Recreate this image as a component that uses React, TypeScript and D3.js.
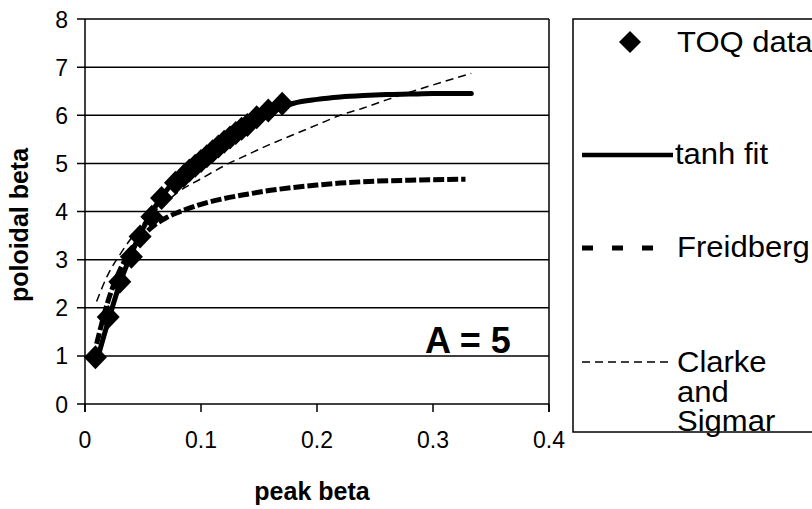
import React from "react";
import * as d3 from "d3";

const W = 812;
const H = 509;

// TOQ data points [peak beta, poloidal beta]
const toqX = [0.009, 0.02, 0.03, 0.04, 0.0475, 0.0576, 0.066, 0.078, 0.085, 0.09, 0.095, 0.1, 0.105, 0.11, 0.115, 0.12, 0.125, 0.13, 0.135, 0.14, 0.148, 0.158, 0.17];
const toqY = [0.97, 1.81, 2.54, 3.06, 3.48, 3.89, 4.28, 4.6, 4.74, 4.85, 4.95, 5.05, 5.15, 5.25, 5.35, 5.45, 5.54, 5.63, 5.72, 5.8, 5.96, 6.1, 6.24];

// tanh fit
const tanhX = [0.01, 0.02, 0.03, 0.04, 0.05, 0.06, 0.07, 0.08, 0.09, 0.1, 0.11, 0.12, 0.13, 0.14, 0.15, 0.16, 0.17, 0.18, 0.2, 0.22, 0.24, 0.26, 0.28, 0.3, 0.333];
const tanhY = [0.88, 1.72, 2.5, 3.12, 3.65, 4.08, 4.43, 4.72, 4.97, 5.18, 5.38, 5.55, 5.71, 5.85, 5.97, 6.08, 6.17, 6.25, 6.33, 6.38, 6.41, 6.43, 6.44, 6.45, 6.45];

// Freidberg
const freiX = [0.01, 0.02, 0.03, 0.04, 0.05, 0.06, 0.07, 0.08, 0.09, 0.1, 0.12, 0.14, 0.16, 0.18, 0.2, 0.22, 0.25, 0.28, 0.328];
const freiY = [1.25, 2.15, 2.78, 3.2, 3.5, 3.72, 3.87, 3.98, 4.07, 4.15, 4.27, 4.36, 4.44, 4.5, 4.55, 4.59, 4.63, 4.65, 4.67];

// Clarke and Sigmar
const clarkeX = [0.01, 0.02, 0.03, 0.04, 0.05, 0.06, 0.07, 0.08, 0.1, 0.12, 0.14, 0.16, 0.18, 0.2, 0.22, 0.24, 0.26, 0.28, 0.3, 0.333];
const clarkeY = [2.13, 2.7, 3.1, 3.45, 3.75, 4.0, 4.2, 4.4, 4.68, 4.95, 5.18, 5.4, 5.6, 5.8, 6.0, 6.15, 6.32, 6.48, 6.63, 6.87];

const xTicks = [0, 0.1, 0.2, 0.3, 0.4];
const xTickLabels = ["0", "0.1", "0.2", "0.3", "0.4"];
const yTicks = [0, 1, 2, 3, 4, 5, 6, 7, 8];

const FONT = "'Liberation Sans', Arial, sans-serif";

const DIAMOND = "M0,-12L11.5,0L0,12L-11.5,0Z";
const LEG_DIAMOND = "M0,-11L11,0L0,11L-11,0Z";

export default function App() {
  const x = d3.scaleLinear().domain([0, 0.4]).range([85, 549]);
  const y = d3.scaleLinear().domain([0, 8]).range([404, 19]);
  const line = d3
    .line<[number, number]>()
    .x((d) => x(d[0]))
    .y((d) => y(d[1]))
    .curve(d3.curveMonotoneX);
  const zip = (a: number[], b: number[]) => a.map((v, i) => [v, b[i]] as [number, number]);

  const legendText = (tx: number, ty: number, s: string) => (
    <text transform={`translate(${tx},${ty}) scale(1.07,1)`} fontSize={29}>
      {s}
    </text>
  );

  return (
    <svg width={W} height={H} style={{ position: "absolute", left: 0, top: 0, background: "#fff" }} fontFamily={FONT}>
      <rect x={0} y={0} width={W} height={H} fill="#fff" />
      {/* gridlines */}
      {yTicks.map((t) => (
        <line key={"g" + t} x1={77} x2={549} y1={y(t)} y2={y(t)} stroke="#000" strokeWidth={1.5} />
      ))}
      {/* axes */}
      <line x1={x(0)} x2={x(0)} y1={y(8)} y2={y(0) + 8} stroke="#000" strokeWidth={1.5} />
      <line x1={x(0.4)} x2={x(0.4)} y1={y(8)} y2={y(0) + 8} stroke="#000" strokeWidth={1.5} />
      {xTicks.map((t) => (
        <line key={"xt" + t} x1={x(t)} x2={x(t)} y1={y(0)} y2={y(0) + 8} stroke="#000" strokeWidth={1.5} />
      ))}
      {yTicks.map((t) => (
        <text key={"yl" + t} x={68} y={y(t) + 8.5} textAnchor="end" fontSize={23}>
          {t}
        </text>
      ))}
      {xTicks.map((t, i) => (
        <text key={"xl" + t} x={x(t)} y={448} textAnchor="middle" fontSize={23}>
          {xTickLabels[i]}
        </text>
      ))}
      {/* axis titles */}
      <text x={312} y={500} textAnchor="middle" fontSize={25} fontWeight="bold">
        peak beta
      </text>
      <text transform={`translate(28,225) rotate(-90)`} textAnchor="middle" fontSize={25} fontWeight="bold">
        poloidal beta
      </text>

      {/* series */}
      <path d={line(zip(clarkeX, clarkeY)) || ""} fill="none" stroke="#000" strokeWidth={1.5} strokeDasharray="8,5" />
      <path d={line(zip(freiX, freiY)) || ""} fill="none" stroke="#000" strokeWidth={5} strokeDasharray="11,3" />
      <path d={line(zip(tanhX, tanhY)) || ""} fill="none" stroke="#000" strokeWidth={5} strokeLinecap="round" />
      {toqX.map((v, i) => (
        <path key={"d" + i} d={DIAMOND} transform={`translate(${x(v)},${y(toqY[i])})`} fill="#000" />
      ))}

      <text x={425} y={353} fontSize={36} fontWeight="bold">
        A = 5
      </text>

      {/* legend */}
      <rect x={573} y={19} width={260} height={413} fill="none" stroke="#000" strokeWidth={1.5} />
      <path d={LEG_DIAMOND} transform="translate(630,42)" fill="#000" />
      {legendText(677, 52, "TOQ data")}
      <line x1={582} x2={673} y1={155} y2={155} stroke="#000" strokeWidth={4.5} />
      {legendText(675, 164, "tanh fit")}
      <line x1={582} x2={655} y1={248} y2={248} stroke="#000" strokeWidth={5} strokeDasharray="11,19" />
      {legendText(677, 257, "Freidberg")}
      <line x1={582} x2={672} y1={362} y2={362} stroke="#000" strokeWidth={1.5} strokeDasharray="8,5" />
      {legendText(677, 372, "Clarke")}
      {legendText(677, 402, "and")}
      {legendText(677, 431, "Sigmar")}
    </svg>
  );
}
